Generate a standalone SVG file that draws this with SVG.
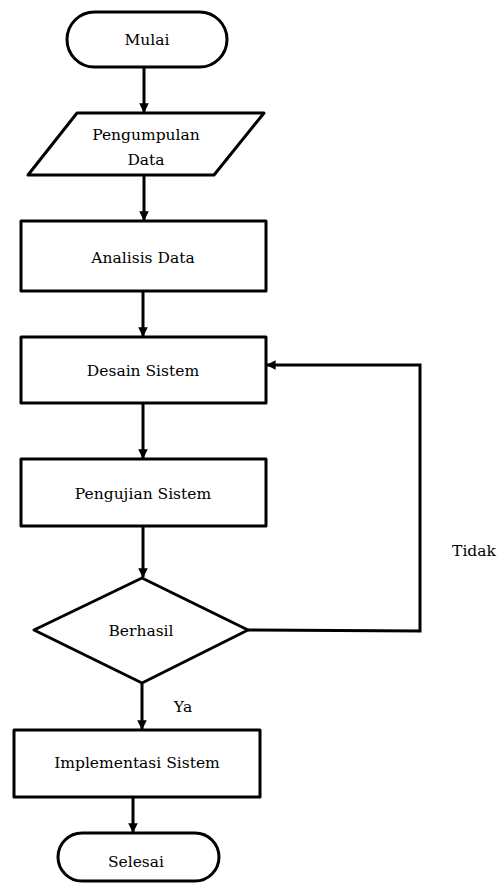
<svg xmlns="http://www.w3.org/2000/svg" width="499" height="884" viewBox="0 0 499 884">
<style>
.s{fill:#fff;stroke:#000;stroke-width:3;stroke-linejoin:round}
.t{font-family:"DejaVu Serif","Liberation Serif",serif;font-size:15.5px;fill:#000;text-anchor:middle}
.c{fill:none;stroke:#000;stroke-width:3}
</style>
<defs>
<marker id="ah" viewBox="0 0 10 10" refX="9" refY="5" markerWidth="3.2" markerHeight="3.2" orient="auto" markerUnits="strokeWidth">
<path d="M0,0 L10,5 L0,10 z" fill="#000"/>
</marker>
</defs>
<g id="connectors">
<line class="c" x1="144" y1="67" x2="144" y2="112" marker-end="url(#ah)"/>
<line class="c" x1="144" y1="175" x2="144" y2="220" marker-end="url(#ah)"/>
<line class="c" x1="143" y1="291" x2="143" y2="336" marker-end="url(#ah)"/>
<line class="c" x1="143" y1="403" x2="143" y2="458" marker-end="url(#ah)"/>
<line class="c" x1="143" y1="526" x2="143" y2="577" marker-end="url(#ah)"/>
<polyline class="c" points="248,630 420,631 420,365 267,365" marker-end="url(#ah)"/>
<line class="c" x1="142" y1="683" x2="142" y2="729" marker-end="url(#ah)"/>
<line class="c" x1="133" y1="797" x2="133" y2="832" marker-end="url(#ah)"/>
</g>
<g id="mulai">
<rect class="s" x="67" y="12" width="160" height="55" rx="27.5"/>
<text class="t" x="147" y="45">Mulai</text>
</g>
<g id="pengumpulan">
<polygon class="s" points="77,113 264,113 214,175 28,175"/>
<text class="t" x="146" y="140">Pengumpulan</text>
<text class="t" x="146" y="165">Data</text>
</g>
<g id="analisis">
<rect class="s" x="21" y="221" width="245" height="70"/>
<text class="t" x="143" y="263">Analisis Data</text>
</g>
<g id="desain">
<rect class="s" x="21" y="337" width="245" height="66"/>
<text class="t" x="143" y="376">Desain Sistem</text>
</g>
<g id="pengujian">
<rect class="s" x="21" y="459" width="245" height="67"/>
<text class="t" x="143" y="499">Pengujian Sistem</text>
</g>
<g id="berhasil">
<polygon class="s" points="142,578 248,630 142,683 34,630"/>
<text class="t" x="141" y="636">Berhasil</text>
</g>
<g id="implementasi">
<rect class="s" x="14" y="730" width="246" height="67"/>
<text class="t" x="137" y="768">Implementasi Sistem</text>
</g>
<g id="selesai">
<rect class="s" x="58" y="833" width="161" height="48" rx="24"/>
<text class="t" x="136" y="867">Selesai</text>
</g>
<g id="labels">
<text class="t" x="474" y="556">Tidak</text>
<text class="t" x="183" y="712">Ya</text>
</g>
</svg>
